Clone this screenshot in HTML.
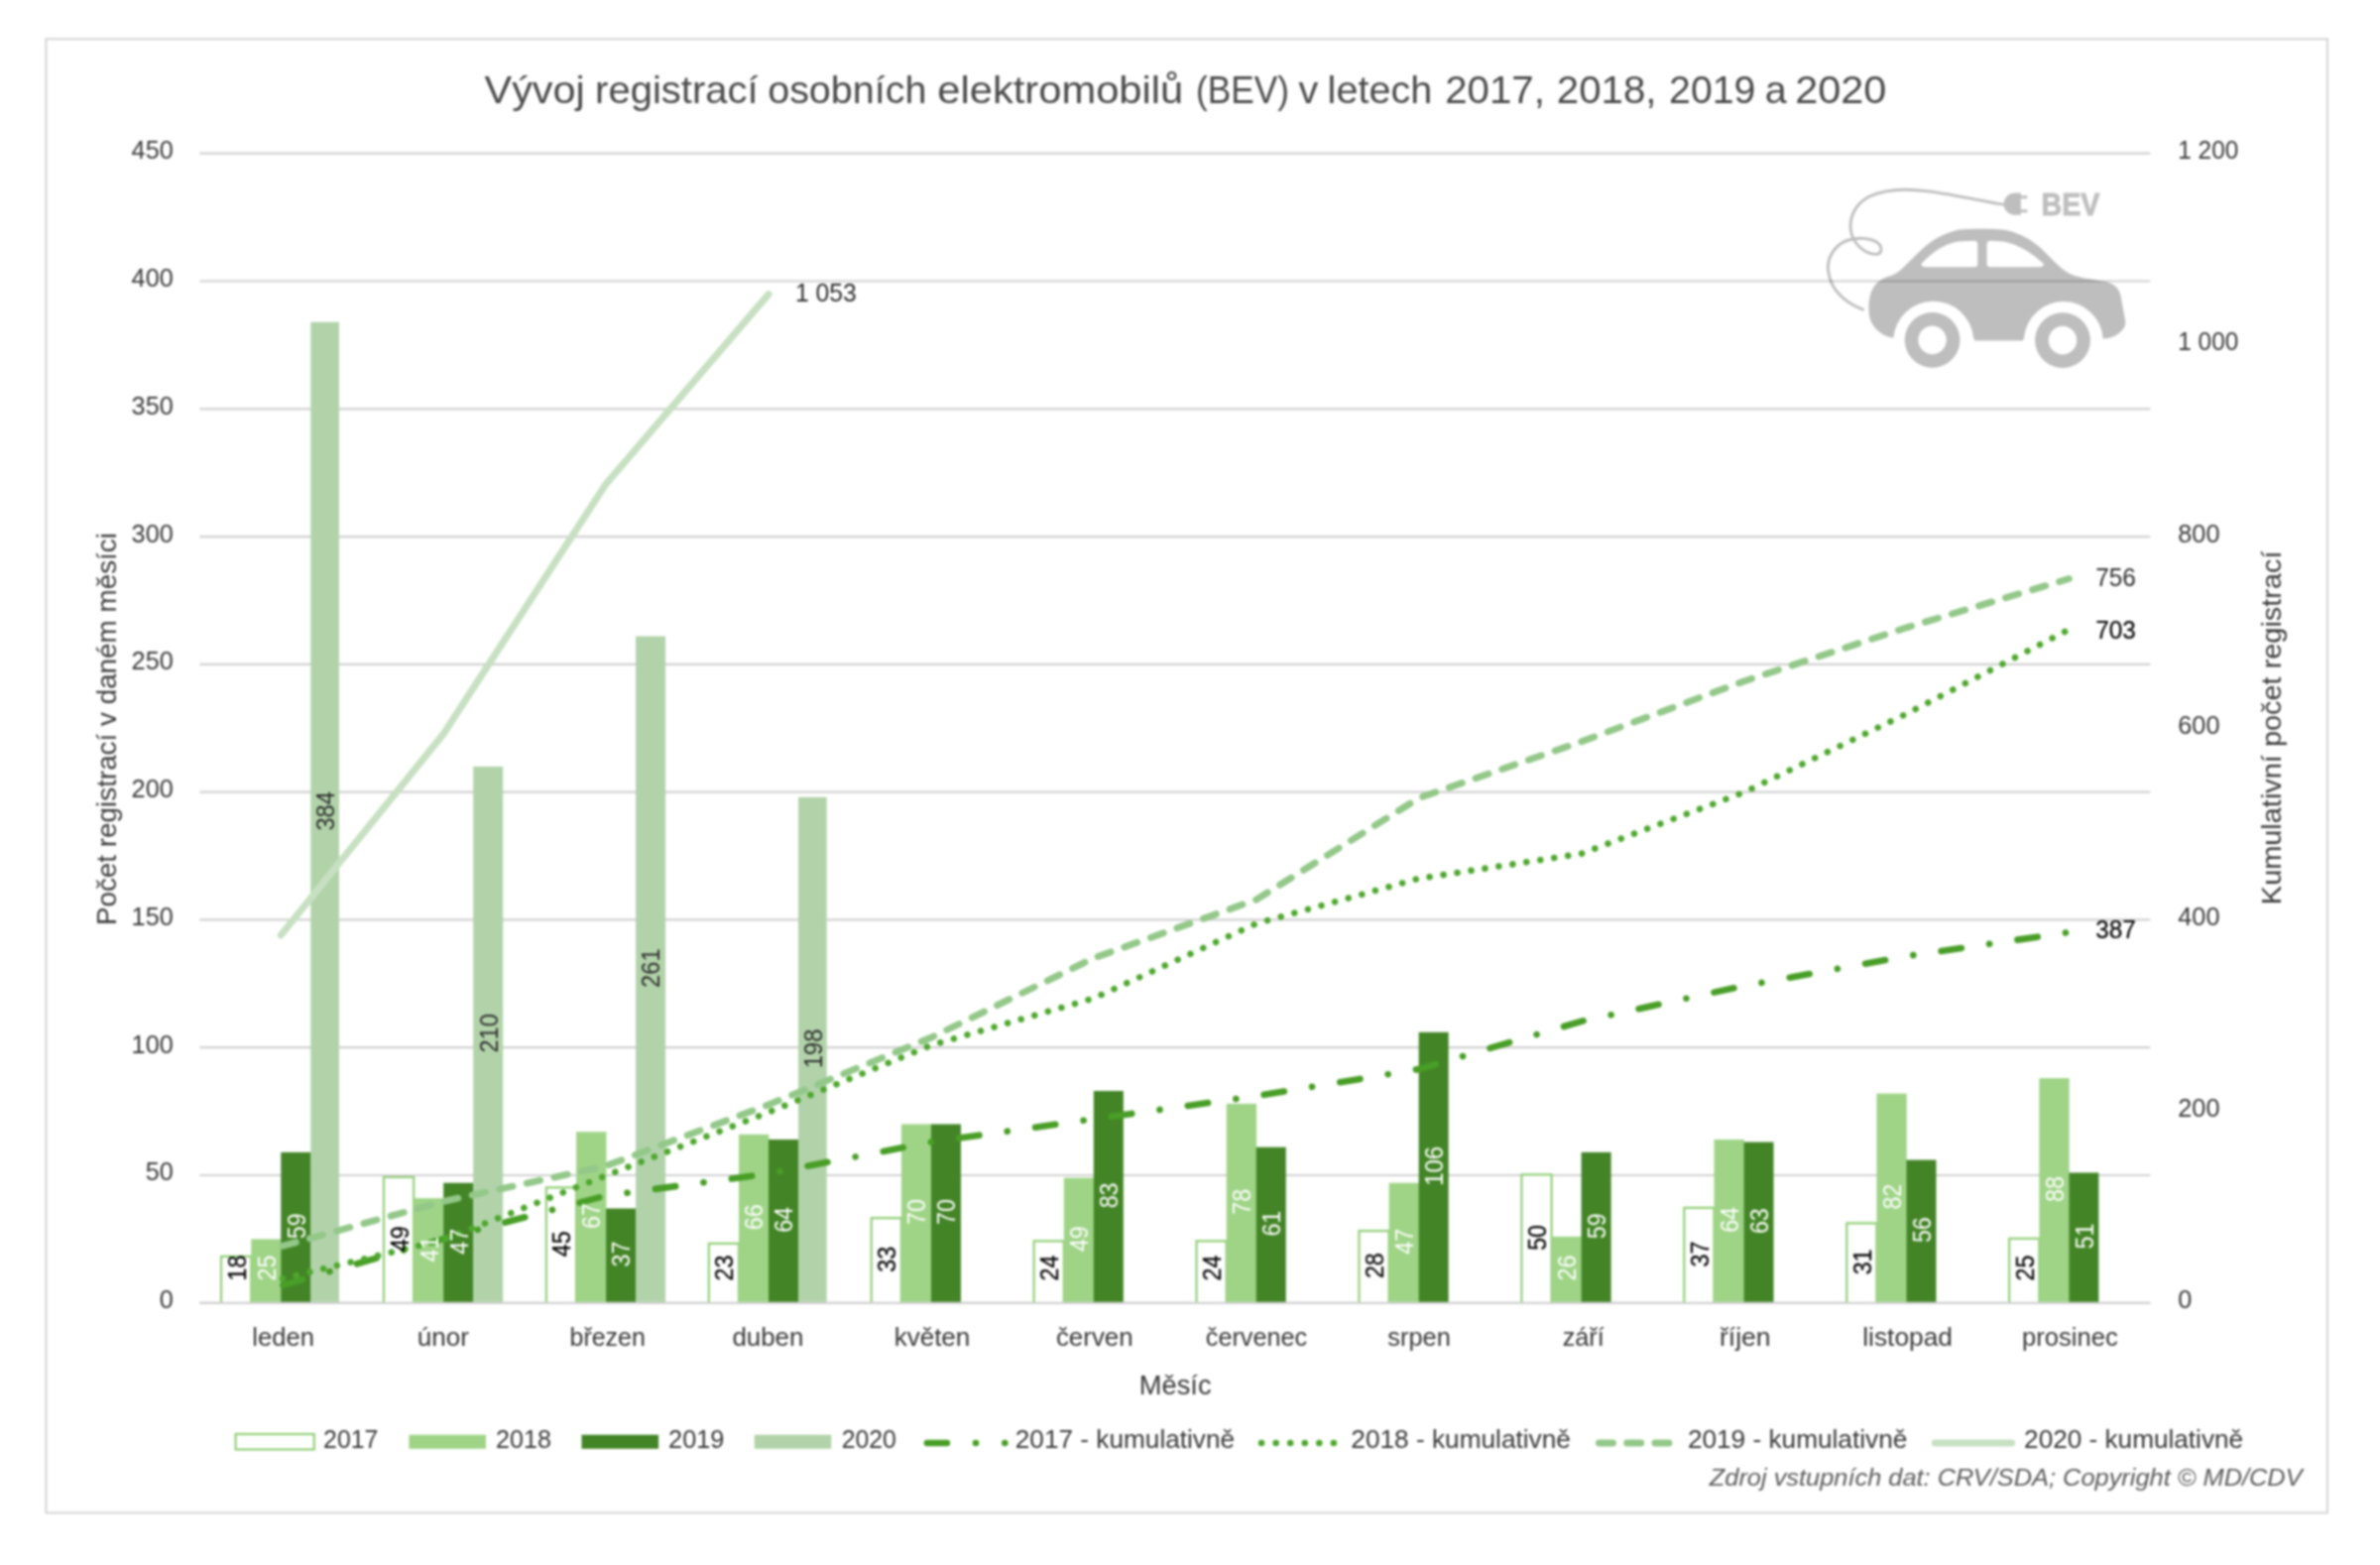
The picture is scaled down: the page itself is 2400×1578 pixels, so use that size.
<!DOCTYPE html>
<html lang="cs"><head><meta charset="utf-8"><title>Vývoj registrací osobních elektromobilů (BEV)</title>
<style>html,body{margin:0;padding:0;background:#fff;}body{width:2400px;height:1578px;overflow:hidden;}svg{display:block;filter:blur(0.8px);}text{font-family:"Liberation Sans",sans-serif;}</style>
</head><body>
<svg width="2400" height="1578" viewBox="0 0 2400 1578">
<rect width="2400" height="1578" fill="#ffffff"/>
<rect x="46.4" y="39.3" width="2300.5" height="1486.1" fill="#fff" stroke="#d1d1d1" stroke-width="1.9"/>
<g stroke="#d1d1d1" stroke-width="2.2">
<line x1="201.3" x2="2168.3" y1="1313.80" y2="1313.80"/>
<line x1="201.3" x2="2168.3" y1="1185.01" y2="1185.01"/>
<line x1="201.3" x2="2168.3" y1="1056.22" y2="1056.22"/>
<line x1="201.3" x2="2168.3" y1="927.43" y2="927.43"/>
<line x1="201.3" x2="2168.3" y1="798.64" y2="798.64"/>
<line x1="201.3" x2="2168.3" y1="669.86" y2="669.86"/>
<line x1="201.3" x2="2168.3" y1="541.07" y2="541.07"/>
<line x1="201.3" x2="2168.3" y1="412.28" y2="412.28"/>
<line x1="201.3" x2="2168.3" y1="283.49" y2="283.49"/>
<line x1="201.3" x2="2168.3" y1="154.70" y2="154.70"/>
</g>
<g transform="translate(1830,170) scale(0.142857)" opacity="0.25" fill="#000">
<path fill-rule="evenodd" d="M555,1195 C470,1185 400,1120 385,1040 C375,960 385,880 420,830 C445,795 480,775 520,762 C560,748 585,735 610,712 L735,590 C800,525 880,465 1010,432 C1100,422 1250,422 1340,432 C1450,455 1530,500 1600,565 L1700,665 C1745,710 1790,742 1840,758 C1900,775 1980,785 2060,800 C2120,815 2150,850 2160,900 L2190,1060 C2200,1110 2185,1130 2150,1160 C2110,1190 2070,1200 2035,1200 A279.5,279.5 0 0 0 1478,1190 L1470,1215 L1130,1215 L1120,1190 A283.8,283.8 0 0 0 555,1195 Z M755,668 C830,590 910,535 1010,515 L1125,510 C1142,510 1150,520 1150,535 L1150,672 C1150,688 1142,695 1125,695 L785,695 C760,695 745,685 755,668 Z M1215,535 C1215,520 1225,510 1242,510 L1330,515 C1440,535 1530,595 1612,668 C1622,682 1610,695 1585,695 L1242,695 C1225,695 1215,688 1215,672 Z"/>
<path fill-rule="evenodd" d="M830,1015 a195,195 0 1 0 0.1,0 Z M830,1110 a100,100 0 1 1 -0.1,0 Z"/>
<path fill-rule="evenodd" d="M1750,1017 a195,195 0 1 0 0.1,0 Z M1750,1112 a100,100 0 1 1 -0.1,0 Z"/>
<path fill="none" stroke="#000" stroke-width="20" stroke-linecap="round" d="M1340,255 C1200,235 1000,185 800,160 C650,140 500,140 380,200 C290,250 240,340 255,440 C270,530 350,600 430,605 C480,605 480,550 440,520 C390,490 300,480 220,510 C130,550 85,640 95,720 C110,860 220,950 340,995"/>
<path d="M1455,172 L1420,172 C1370,172 1335,205 1335,250 C1335,295 1370,328 1420,328 L1455,328 L1455,310 L1500,310 L1500,288 L1455,288 L1455,212 L1500,212 L1500,190 L1455,190 Z"/>
<text x="1600" y="330" font-size="216" font-weight="bold" stroke="#000" stroke-width="7" textLength="412" lengthAdjust="spacingAndGlyphs">BEV</text>
</g>
<path d="M223.06,1313.80 L223.06,1266.84 L253.26,1266.84 L253.26,1313.80" fill="#fff" stroke="#93cf79" stroke-width="2.2"/>
<path d="M386.98,1313.80 L386.98,1186.99 L417.18,1186.99 L417.18,1313.80" fill="#fff" stroke="#93cf79" stroke-width="2.2"/>
<path d="M550.89,1313.80 L550.89,1197.29 L581.09,1197.29 L581.09,1313.80" fill="#fff" stroke="#93cf79" stroke-width="2.2"/>
<path d="M714.81,1313.80 L714.81,1253.96 L745.01,1253.96 L745.01,1313.80" fill="#fff" stroke="#93cf79" stroke-width="2.2"/>
<path d="M878.73,1313.80 L878.73,1228.20 L908.93,1228.20 L908.93,1313.80" fill="#fff" stroke="#93cf79" stroke-width="2.2"/>
<path d="M1042.64,1313.80 L1042.64,1251.38 L1072.84,1251.38 L1072.84,1313.80" fill="#fff" stroke="#93cf79" stroke-width="2.2"/>
<path d="M1206.56,1313.80 L1206.56,1251.38 L1236.76,1251.38 L1236.76,1313.80" fill="#fff" stroke="#93cf79" stroke-width="2.2"/>
<path d="M1370.48,1313.80 L1370.48,1241.08 L1400.68,1241.08 L1400.68,1313.80" fill="#fff" stroke="#93cf79" stroke-width="2.2"/>
<path d="M1534.39,1313.80 L1534.39,1184.41 L1564.59,1184.41 L1564.59,1313.80" fill="#fff" stroke="#93cf79" stroke-width="2.2"/>
<path d="M1698.31,1313.80 L1698.31,1217.90 L1728.51,1217.90 L1728.51,1313.80" fill="#fff" stroke="#93cf79" stroke-width="2.2"/>
<path d="M1862.23,1313.80 L1862.23,1233.35 L1892.43,1233.35 L1892.43,1313.80" fill="#fff" stroke="#93cf79" stroke-width="2.2"/>
<path d="M2026.14,1313.80 L2026.14,1248.81 L2056.34,1248.81 L2056.34,1313.80" fill="#fff" stroke="#93cf79" stroke-width="2.2"/>
<rect x="253.26" y="1249.41" width="30.30" height="64.39" fill="#9fd487"/>
<rect x="283.26" y="1161.83" width="30.40" height="151.97" fill="#438526"/>
<rect x="313.26" y="324.70" width="28.70" height="989.10" fill="#b2d3aa"/>
<rect x="417.18" y="1208.19" width="30.30" height="105.61" fill="#9fd487"/>
<rect x="447.18" y="1192.74" width="30.40" height="121.06" fill="#438526"/>
<rect x="477.18" y="772.89" width="30.00" height="540.91" fill="#b2d3aa"/>
<rect x="581.09" y="1141.22" width="30.30" height="172.58" fill="#9fd487"/>
<rect x="611.09" y="1218.50" width="30.40" height="95.30" fill="#438526"/>
<rect x="641.09" y="641.52" width="30.00" height="672.28" fill="#b2d3aa"/>
<rect x="745.01" y="1143.80" width="30.30" height="170.00" fill="#9fd487"/>
<rect x="775.01" y="1148.95" width="30.40" height="164.85" fill="#438526"/>
<rect x="805.01" y="803.80" width="28.70" height="510.00" fill="#b2d3aa"/>
<rect x="908.93" y="1133.50" width="30.30" height="180.30" fill="#9fd487"/>
<rect x="938.93" y="1133.50" width="30.00" height="180.30" fill="#438526"/>
<rect x="1072.84" y="1187.59" width="30.30" height="126.21" fill="#9fd487"/>
<rect x="1102.84" y="1100.01" width="30.00" height="213.79" fill="#438526"/>
<rect x="1236.76" y="1112.89" width="30.30" height="200.91" fill="#9fd487"/>
<rect x="1266.76" y="1156.68" width="30.00" height="157.12" fill="#438526"/>
<rect x="1400.68" y="1192.74" width="30.30" height="121.06" fill="#9fd487"/>
<rect x="1430.68" y="1040.77" width="30.00" height="273.03" fill="#438526"/>
<rect x="1564.59" y="1246.83" width="30.30" height="66.97" fill="#9fd487"/>
<rect x="1594.59" y="1161.83" width="30.00" height="151.97" fill="#438526"/>
<rect x="1728.51" y="1148.95" width="30.30" height="164.85" fill="#9fd487"/>
<rect x="1758.51" y="1151.53" width="30.00" height="162.27" fill="#438526"/>
<rect x="1892.43" y="1102.59" width="30.30" height="211.21" fill="#9fd487"/>
<rect x="1922.43" y="1169.56" width="30.00" height="144.24" fill="#438526"/>
<rect x="2056.34" y="1087.13" width="30.30" height="226.67" fill="#9fd487"/>
<rect x="2086.34" y="1182.44" width="30.00" height="131.36" fill="#438526"/>
<line x1="201.3" x2="2168.3" y1="1313.80" y2="1313.80" stroke="#d1d1d1" stroke-width="2.2"/>
<polyline points="283.26,1296.41 447.18,1249.08 611.09,1205.62 775.01,1183.40 938.93,1151.53 1102.84,1128.34 1266.76,1105.16 1430.68,1078.12 1594.59,1029.82 1758.51,994.08 1922.43,964.14 2086.34,939.99" fill="none" stroke="#489e26" stroke-width="6.6" stroke-linecap="round" stroke-linejoin="round" stroke-dasharray="20.44 28.61 0.01 28.60" stroke-dashoffset="-2.15"/>
<polyline points="283.26,1289.65 447.18,1250.05 611.09,1185.33 775.01,1121.58 938.93,1053.97 1102.84,1006.64 1266.76,931.30 1430.68,885.90 1594.59,860.79 1758.51,798.97 1922.43,719.76 2086.34,634.76" fill="none" stroke="#4ea72e" stroke-width="6.55" stroke-linecap="round" stroke-linejoin="round" stroke-dasharray="0.01 14.11" stroke-dashoffset="-1.78"/>
<polyline points="283.26,1256.81 447.18,1211.41 611.09,1175.67 775.01,1113.86 938.93,1046.24 1102.84,966.07 1266.76,907.15 1430.68,804.76 1594.59,747.77 1758.51,686.92 1922.43,632.83 2086.34,583.57" fill="none" stroke="#93c889" stroke-width="6.9" stroke-linecap="round" stroke-linejoin="round" stroke-dasharray="13.68 14.56" stroke-dashoffset="-2.0"/>
<polyline points="283.26,942.89 447.18,740.05 611.09,487.94 775.01,296.69" fill="none" stroke="#c7e0c2" stroke-width="7.06" stroke-linecap="round" stroke-linejoin="round"/>
<text transform="translate(247.6,1278.5) rotate(-90)" font-size="25.3" fill="#000000" text-anchor="middle" textLength="25.8" lengthAdjust="spacingAndGlyphs" stroke="#000" stroke-width="0.25">18</text>
<text transform="translate(277.6,1278.5) rotate(-90)" font-size="25.3" fill="#ffffff" text-anchor="middle" textLength="25.8" lengthAdjust="spacingAndGlyphs" >25</text>
<text transform="translate(307.6,1236.3) rotate(-90)" font-size="25.3" fill="#ffffff" text-anchor="middle" textLength="25.8" lengthAdjust="spacingAndGlyphs" >59</text>
<text transform="translate(336.9,817.8) rotate(-90)" font-size="25.3" fill="#2b2b2b" text-anchor="middle" textLength="39.5" lengthAdjust="spacingAndGlyphs" >384</text>
<text transform="translate(411.5,1249.2) rotate(-90)" font-size="25.3" fill="#000000" text-anchor="middle" textLength="25.8" lengthAdjust="spacingAndGlyphs" stroke="#000" stroke-width="0.25">49</text>
<text transform="translate(441.5,1259.5) rotate(-90)" font-size="25.3" fill="#ffffff" text-anchor="middle" textLength="25.8" lengthAdjust="spacingAndGlyphs" >41</text>
<text transform="translate(471.5,1251.8) rotate(-90)" font-size="25.3" fill="#ffffff" text-anchor="middle" textLength="25.8" lengthAdjust="spacingAndGlyphs" >47</text>
<text transform="translate(501.5,1041.8) rotate(-90)" font-size="25.3" fill="#2b2b2b" text-anchor="middle" textLength="39.5" lengthAdjust="spacingAndGlyphs" >210</text>
<text transform="translate(575.4,1254.3) rotate(-90)" font-size="25.3" fill="#000000" text-anchor="middle" textLength="25.8" lengthAdjust="spacingAndGlyphs" stroke="#000" stroke-width="0.25">45</text>
<text transform="translate(605.4,1226.0) rotate(-90)" font-size="25.3" fill="#ffffff" text-anchor="middle" textLength="25.8" lengthAdjust="spacingAndGlyphs" >67</text>
<text transform="translate(635.4,1264.6) rotate(-90)" font-size="25.3" fill="#ffffff" text-anchor="middle" textLength="25.8" lengthAdjust="spacingAndGlyphs" >37</text>
<text transform="translate(665.4,976.2) rotate(-90)" font-size="25.3" fill="#2b2b2b" text-anchor="middle" textLength="39.5" lengthAdjust="spacingAndGlyphs" >261</text>
<text transform="translate(739.3,1278.5) rotate(-90)" font-size="25.3" fill="#000000" text-anchor="middle" textLength="25.8" lengthAdjust="spacingAndGlyphs" stroke="#000" stroke-width="0.25">23</text>
<text transform="translate(769.3,1227.3) rotate(-90)" font-size="25.3" fill="#ffffff" text-anchor="middle" textLength="25.8" lengthAdjust="spacingAndGlyphs" >66</text>
<text transform="translate(799.3,1229.9) rotate(-90)" font-size="25.3" fill="#ffffff" text-anchor="middle" textLength="25.8" lengthAdjust="spacingAndGlyphs" >64</text>
<text transform="translate(828.7,1057.3) rotate(-90)" font-size="25.3" fill="#2b2b2b" text-anchor="middle" textLength="39.5" lengthAdjust="spacingAndGlyphs" >198</text>
<text transform="translate(903.2,1269.8) rotate(-90)" font-size="25.3" fill="#000000" text-anchor="middle" textLength="25.8" lengthAdjust="spacingAndGlyphs" stroke="#000" stroke-width="0.25">33</text>
<text transform="translate(933.2,1222.1) rotate(-90)" font-size="25.3" fill="#ffffff" text-anchor="middle" textLength="25.8" lengthAdjust="spacingAndGlyphs" >70</text>
<text transform="translate(963.2,1222.1) rotate(-90)" font-size="25.3" fill="#ffffff" text-anchor="middle" textLength="25.8" lengthAdjust="spacingAndGlyphs" >70</text>
<text transform="translate(1067.1,1278.5) rotate(-90)" font-size="25.3" fill="#000000" text-anchor="middle" textLength="25.8" lengthAdjust="spacingAndGlyphs" stroke="#000" stroke-width="0.25">24</text>
<text transform="translate(1097.1,1249.2) rotate(-90)" font-size="25.3" fill="#ffffff" text-anchor="middle" textLength="25.8" lengthAdjust="spacingAndGlyphs" >49</text>
<text transform="translate(1127.1,1205.4) rotate(-90)" font-size="25.3" fill="#ffffff" text-anchor="middle" textLength="25.8" lengthAdjust="spacingAndGlyphs" >83</text>
<text transform="translate(1231.1,1278.5) rotate(-90)" font-size="25.3" fill="#000000" text-anchor="middle" textLength="25.8" lengthAdjust="spacingAndGlyphs" stroke="#000" stroke-width="0.25">24</text>
<text transform="translate(1261.1,1211.8) rotate(-90)" font-size="25.3" fill="#ffffff" text-anchor="middle" textLength="25.8" lengthAdjust="spacingAndGlyphs" >78</text>
<text transform="translate(1291.1,1233.7) rotate(-90)" font-size="25.3" fill="#ffffff" text-anchor="middle" textLength="25.8" lengthAdjust="spacingAndGlyphs" >61</text>
<text transform="translate(1395.0,1276.2) rotate(-90)" font-size="25.3" fill="#000000" text-anchor="middle" textLength="25.8" lengthAdjust="spacingAndGlyphs" stroke="#000" stroke-width="0.25">28</text>
<text transform="translate(1425.0,1251.8) rotate(-90)" font-size="25.3" fill="#ffffff" text-anchor="middle" textLength="25.8" lengthAdjust="spacingAndGlyphs" >47</text>
<text transform="translate(1455.0,1175.8) rotate(-90)" font-size="25.3" fill="#ffffff" text-anchor="middle" textLength="40.0" lengthAdjust="spacingAndGlyphs" >106</text>
<text transform="translate(1558.9,1247.9) rotate(-90)" font-size="25.3" fill="#000000" text-anchor="middle" textLength="25.8" lengthAdjust="spacingAndGlyphs" stroke="#000" stroke-width="0.25">50</text>
<text transform="translate(1588.9,1278.5) rotate(-90)" font-size="25.3" fill="#ffffff" text-anchor="middle" textLength="25.8" lengthAdjust="spacingAndGlyphs" >26</text>
<text transform="translate(1618.9,1236.3) rotate(-90)" font-size="25.3" fill="#ffffff" text-anchor="middle" textLength="25.8" lengthAdjust="spacingAndGlyphs" >59</text>
<text transform="translate(1722.8,1264.6) rotate(-90)" font-size="25.3" fill="#000000" text-anchor="middle" textLength="25.8" lengthAdjust="spacingAndGlyphs" stroke="#000" stroke-width="0.25">37</text>
<text transform="translate(1752.8,1229.9) rotate(-90)" font-size="25.3" fill="#ffffff" text-anchor="middle" textLength="25.8" lengthAdjust="spacingAndGlyphs" >64</text>
<text transform="translate(1782.8,1231.2) rotate(-90)" font-size="25.3" fill="#ffffff" text-anchor="middle" textLength="25.8" lengthAdjust="spacingAndGlyphs" >63</text>
<text transform="translate(1886.7,1272.4) rotate(-90)" font-size="25.3" fill="#000000" text-anchor="middle" textLength="25.8" lengthAdjust="spacingAndGlyphs" stroke="#000" stroke-width="0.25">31</text>
<text transform="translate(1916.7,1206.7) rotate(-90)" font-size="25.3" fill="#ffffff" text-anchor="middle" textLength="25.8" lengthAdjust="spacingAndGlyphs" >82</text>
<text transform="translate(1946.7,1240.2) rotate(-90)" font-size="25.3" fill="#ffffff" text-anchor="middle" textLength="25.8" lengthAdjust="spacingAndGlyphs" >56</text>
<text transform="translate(2050.6,1278.5) rotate(-90)" font-size="25.3" fill="#000000" text-anchor="middle" textLength="25.8" lengthAdjust="spacingAndGlyphs" stroke="#000" stroke-width="0.25">25</text>
<text transform="translate(2080.6,1199.0) rotate(-90)" font-size="25.3" fill="#ffffff" text-anchor="middle" textLength="25.8" lengthAdjust="spacingAndGlyphs" >88</text>
<text transform="translate(2110.6,1246.6) rotate(-90)" font-size="25.3" fill="#ffffff" text-anchor="middle" textLength="25.8" lengthAdjust="spacingAndGlyphs" >51</text>
<text x="801.9" y="303.6" font-size="25.3" fill="#2b2b2b" text-anchor="start" textLength="61.9" lengthAdjust="spacingAndGlyphs" >1 053</text>
<text x="2113.3" y="590.8" font-size="25.3" fill="#2b2b2b" text-anchor="start" textLength="40.6" lengthAdjust="spacingAndGlyphs" >756</text>
<text x="2113.3" y="643.6" font-size="25.3" fill="#000000" text-anchor="start" textLength="40.6" lengthAdjust="spacingAndGlyphs" stroke="#000" stroke-width="0.2">703</text>
<text x="2113.3" y="946.3" font-size="25.3" fill="#000000" text-anchor="start" textLength="40.6" lengthAdjust="spacingAndGlyphs" stroke="#000" stroke-width="0.2">387</text>
<text y="103.7" font-size="39.5" fill="#4a4a4a"><tspan x="488.5" textLength="101.3" lengthAdjust="spacingAndGlyphs">Vývoj</tspan> <tspan x="600.1" textLength="164.5" lengthAdjust="spacingAndGlyphs">registrací</tspan> <tspan x="774.2" textLength="160.2" lengthAdjust="spacingAndGlyphs">osobních</tspan> <tspan x="945.3" textLength="247.9" lengthAdjust="spacingAndGlyphs">elektromobilů</tspan> <tspan x="1206.1" textLength="94.0" lengthAdjust="spacingAndGlyphs">(BEV)</tspan> <tspan x="1309.4">v</tspan> <tspan x="1338.6" textLength="105.7" lengthAdjust="spacingAndGlyphs">letech</tspan> <tspan x="1457.2" textLength="100.7" lengthAdjust="spacingAndGlyphs">2017,</tspan> <tspan x="1569.8" textLength="100.7" lengthAdjust="spacingAndGlyphs">2018,</tspan> <tspan x="1683.1" textLength="87.2" lengthAdjust="spacingAndGlyphs">2019</tspan> <tspan x="1779.8">a</tspan> <tspan x="1810.2" textLength="92.2" lengthAdjust="spacingAndGlyphs">2020</tspan></text>
<text x="174.8" y="1319.2" font-size="25.3" fill="#383838" text-anchor="end" >0</text>
<text x="174.8" y="1190.4" font-size="25.3" fill="#383838" text-anchor="end" >50</text>
<text x="174.8" y="1061.6" font-size="25.3" fill="#383838" text-anchor="end" >100</text>
<text x="174.8" y="932.8" font-size="25.3" fill="#383838" text-anchor="end" >150</text>
<text x="174.8" y="804.0" font-size="25.3" fill="#383838" text-anchor="end" >200</text>
<text x="174.8" y="675.3" font-size="25.3" fill="#383838" text-anchor="end" >250</text>
<text x="174.8" y="546.5" font-size="25.3" fill="#383838" text-anchor="end" >300</text>
<text x="174.8" y="417.7" font-size="25.3" fill="#383838" text-anchor="end" >350</text>
<text x="174.8" y="288.9" font-size="25.3" fill="#383838" text-anchor="end" >400</text>
<text x="174.8" y="160.1" font-size="25.3" fill="#383838" text-anchor="end" >450</text>
<text x="2196.3" y="1319.2" font-size="25.3" fill="#383838" text-anchor="start" >0</text>
<text x="2196.3" y="1126.0" font-size="25.3" fill="#383838" text-anchor="start" >200</text>
<text x="2196.3" y="932.8" font-size="25.3" fill="#383838" text-anchor="start" >400</text>
<text x="2196.3" y="739.6" font-size="25.3" fill="#383838" text-anchor="start" >600</text>
<text x="2196.3" y="546.5" font-size="25.3" fill="#383838" text-anchor="start" >800</text>
<text x="2196.3" y="353.3" font-size="25.3" fill="#383838" text-anchor="start" textLength="61.0" lengthAdjust="spacingAndGlyphs" >1 000</text>
<text x="2196.3" y="160.1" font-size="25.3" fill="#383838" text-anchor="start" textLength="61.0" lengthAdjust="spacingAndGlyphs" >1 200</text>
<text x="285.6" y="1357.0" font-size="25.3" fill="#383838" text-anchor="middle" textLength="62.5" lengthAdjust="spacingAndGlyphs" >leden</text>
<text x="446.9" y="1357.0" font-size="25.3" fill="#383838" text-anchor="middle" textLength="52.2" lengthAdjust="spacingAndGlyphs" >únor</text>
<text x="612.7" y="1357.0" font-size="25.3" fill="#383838" text-anchor="middle" textLength="76.4" lengthAdjust="spacingAndGlyphs" >březen</text>
<text x="774.4" y="1357.0" font-size="25.3" fill="#383838" text-anchor="middle" textLength="72.0" lengthAdjust="spacingAndGlyphs" >duben</text>
<text x="940.0" y="1357.0" font-size="25.3" fill="#383838" text-anchor="middle" textLength="76.7" lengthAdjust="spacingAndGlyphs" >květen</text>
<text x="1103.8" y="1357.0" font-size="25.3" fill="#383838" text-anchor="middle" textLength="77.8" lengthAdjust="spacingAndGlyphs" >červen</text>
<text x="1267.0" y="1357.0" font-size="25.3" fill="#383838" text-anchor="middle" textLength="102.5" lengthAdjust="spacingAndGlyphs" >červenec</text>
<text x="1431.1" y="1357.0" font-size="25.3" fill="#383838" text-anchor="middle" textLength="63.5" lengthAdjust="spacingAndGlyphs" >srpen</text>
<text x="1596.7" y="1357.0" font-size="25.3" fill="#383838" text-anchor="middle" textLength="42.1" lengthAdjust="spacingAndGlyphs" >září</text>
<text x="1759.8" y="1357.0" font-size="25.3" fill="#383838" text-anchor="middle" textLength="51.6" lengthAdjust="spacingAndGlyphs" >říjen</text>
<text x="1923.6" y="1357.0" font-size="25.3" fill="#383838" text-anchor="middle" textLength="90.7" lengthAdjust="spacingAndGlyphs" >listopad</text>
<text x="2087.4" y="1357.0" font-size="25.3" fill="#383838" text-anchor="middle" textLength="96.6" lengthAdjust="spacingAndGlyphs" >prosinec</text>
<text x="1148.8" y="1406.0" font-size="28.0" fill="#383838" text-anchor="start" textLength="72.8" lengthAdjust="spacingAndGlyphs" >Měsíc</text>
<text transform="translate(117.0,735.1) rotate(-90)" font-size="28.0" fill="#383838" text-anchor="middle" textLength="396.0" lengthAdjust="spacingAndGlyphs" >Počet registrací v daném měsíci</text>
<text transform="translate(2299.5,733.8) rotate(-90)" font-size="28.0" fill="#383838" text-anchor="middle" textLength="356.7" lengthAdjust="spacingAndGlyphs" >Kumulativní počet registrací</text>
<rect x="237.6" y="1446.0" width="79.2" height="15.5" fill="#fff" stroke="#93cf79" stroke-width="2.2"/>
<rect x="412.4" y="1446.7" width="77.6" height="14.1" fill="#9fd487"/>
<rect x="586.5" y="1446.7" width="77.6" height="14.1" fill="#438526"/>
<rect x="760.7" y="1446.7" width="77.6" height="14.1" fill="#b2d3aa"/>
<text x="326.1" y="1460.3" font-size="25.3" fill="#383838" text-anchor="start" textLength="55.3" lengthAdjust="spacingAndGlyphs" >2017</text>
<text x="500.1" y="1460.3" font-size="25.3" fill="#383838" text-anchor="start" textLength="55.8" lengthAdjust="spacingAndGlyphs" >2018</text>
<text x="674.1" y="1460.3" font-size="25.3" fill="#383838" text-anchor="start" textLength="56.2" lengthAdjust="spacingAndGlyphs" >2019</text>
<text x="848.8" y="1460.3" font-size="25.3" fill="#383838" text-anchor="start" textLength="55.1" lengthAdjust="spacingAndGlyphs" >2020</text>
<text x="1023.8" y="1460.3" font-size="25.3" fill="#383838" text-anchor="start" textLength="221.3" lengthAdjust="spacingAndGlyphs" >2017 - kumulativně</text>
<text x="1362.3" y="1460.3" font-size="25.3" fill="#383838" text-anchor="start" textLength="221.6" lengthAdjust="spacingAndGlyphs" >2018 - kumulativně</text>
<text x="1701.9" y="1460.3" font-size="25.3" fill="#383838" text-anchor="start" textLength="221.4" lengthAdjust="spacingAndGlyphs" >2019 - kumulativně</text>
<text x="2041.1" y="1460.3" font-size="25.3" fill="#383838" text-anchor="start" textLength="221.0" lengthAdjust="spacingAndGlyphs" >2020 - kumulativně</text>
<line x1="934.9" x2="954.9" y1="1455.0" y2="1455.0" stroke="#489e26" stroke-width="6.6" stroke-linecap="round"/>
<circle cx="984" cy="1455.0" r="3.3" fill="#489e26"/><circle cx="1013.3" cy="1455.0" r="3.3" fill="#489e26"/>
<line x1="1272.1" x2="1346" y1="1455.0" y2="1455.0" stroke="#4ea72e" stroke-width="6.55" stroke-linecap="round" stroke-dasharray="0.01 14.55"/>
<line x1="1612.5" x2="1682.9" y1="1455.0" y2="1455.0" stroke="#93c889" stroke-width="6.9" stroke-linecap="round" stroke-dasharray="14.0 14.2"/>
<line x1="1951.4" x2="2028.5" y1="1455.0" y2="1455.0" stroke="#c7e0c2" stroke-width="7.06" stroke-linecap="round"/>
<text x="1723.8" y="1497.6" font-size="24.8" fill="#5a5a5a" text-anchor="start" textLength="597.8" lengthAdjust="spacingAndGlyphs" font-style="italic">Zdroj vstupních dat: CRV/SDA; Copyright © MD/CDV</text>
</svg>
</body></html>
